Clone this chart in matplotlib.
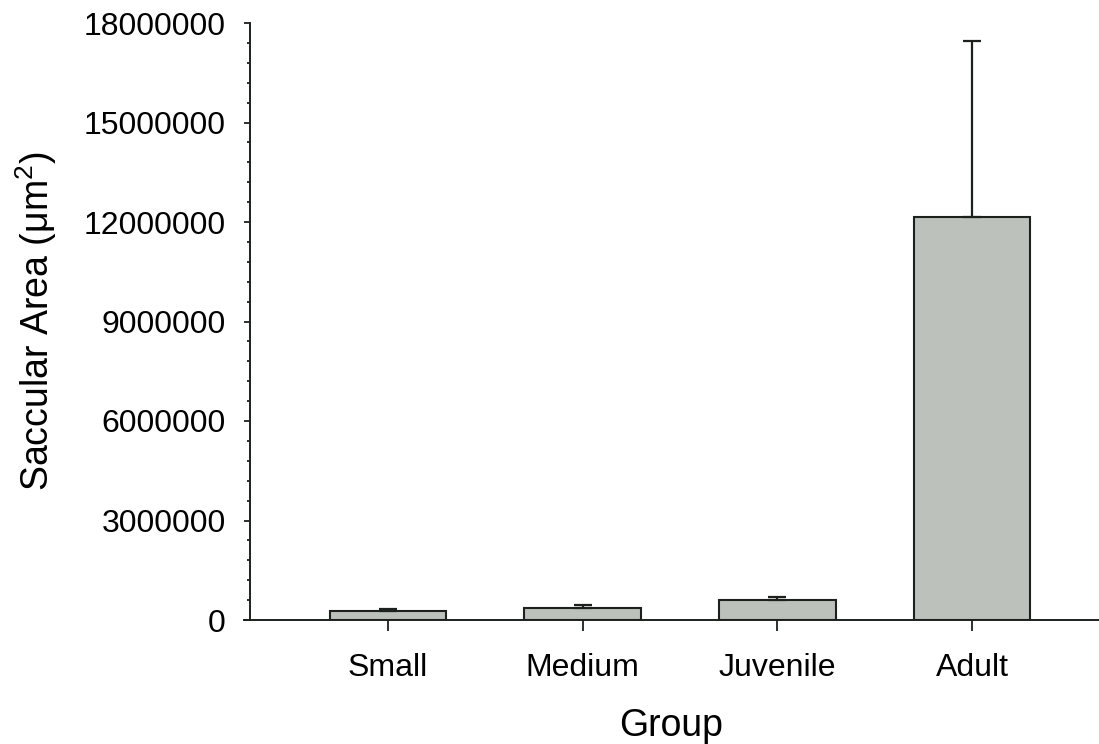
import matplotlib
matplotlib.use('Agg')
import matplotlib.pyplot as plt
from matplotlib.ticker import MultipleLocator
import numpy as np

plt.rcParams['font.family'] = ['Liberation Sans', 'DejaVu Sans']
plt.rcParams['mathtext.fontset'] = 'custom'
plt.rcParams['mathtext.rm'] = 'Liberation Sans'

# data
groups = ['Small', 'Medium', 'Juvenile', 'Adult']
means = [275000, 375000, 595000, 12150000]
errors = [60000, 80000, 90000, 5320000]

fig = plt.figure(figsize=(10.99, 7.44), dpi=100)
ax = fig.add_axes([244 / 1099, 124 / 744, (1098 - 244) / 1099, (620 - 23) / 744])

x = np.arange(len(groups))
ax.bar(x, means, width=0.6, color='#bdc1bc', edgecolor='#1c211e', linewidth=1.5, zorder=2)
ax.errorbar(x, means, yerr=[np.zeros(len(errors)), errors], fmt='none',
            ecolor='#1c211e', elinewidth=1.6, capsize=6.5, capthick=1.6, zorder=3)

ax.set_ylim(0, 18000000)
ax.set_xlim(-0.740, 3.647)
ax.spines['left'].set_position(('data', -0.709))
ax.spines['top'].set_visible(False)
ax.spines['right'].set_visible(False)
for s in ['left', 'bottom']:
    ax.spines[s].set_linewidth(1.4)
    ax.spines[s].set_color('#1c211e')

ax.yaxis.set_major_locator(MultipleLocator(3000000))
ax.yaxis.set_minor_locator(MultipleLocator(600000))
ax.yaxis.set_major_formatter(plt.FuncFormatter(lambda v, p: f'{int(v)}'))
ax.set_xticks(x)
ax.set_xticklabels(groups)

ax.tick_params(axis='y', which='major', direction='out', length=4.5, width=1.3,
               labelsize=23, pad=13, color='#1c211e')
ax.tick_params(axis='y', which='minor', direction='out', length=2, width=1.3, color='#1c211e')
ax.tick_params(axis='x', which='major', direction='out', length=8, width=1.3,
               labelsize=23, pad=16, color='#1c211e')

ax.set_ylabel('Saccular Area (μm$^\\mathregular{2}$)', fontsize=27, labelpad=18)
ax.set_xlabel('Group', fontsize=27, labelpad=18)

plt.savefig('out.png', dpi=100)
